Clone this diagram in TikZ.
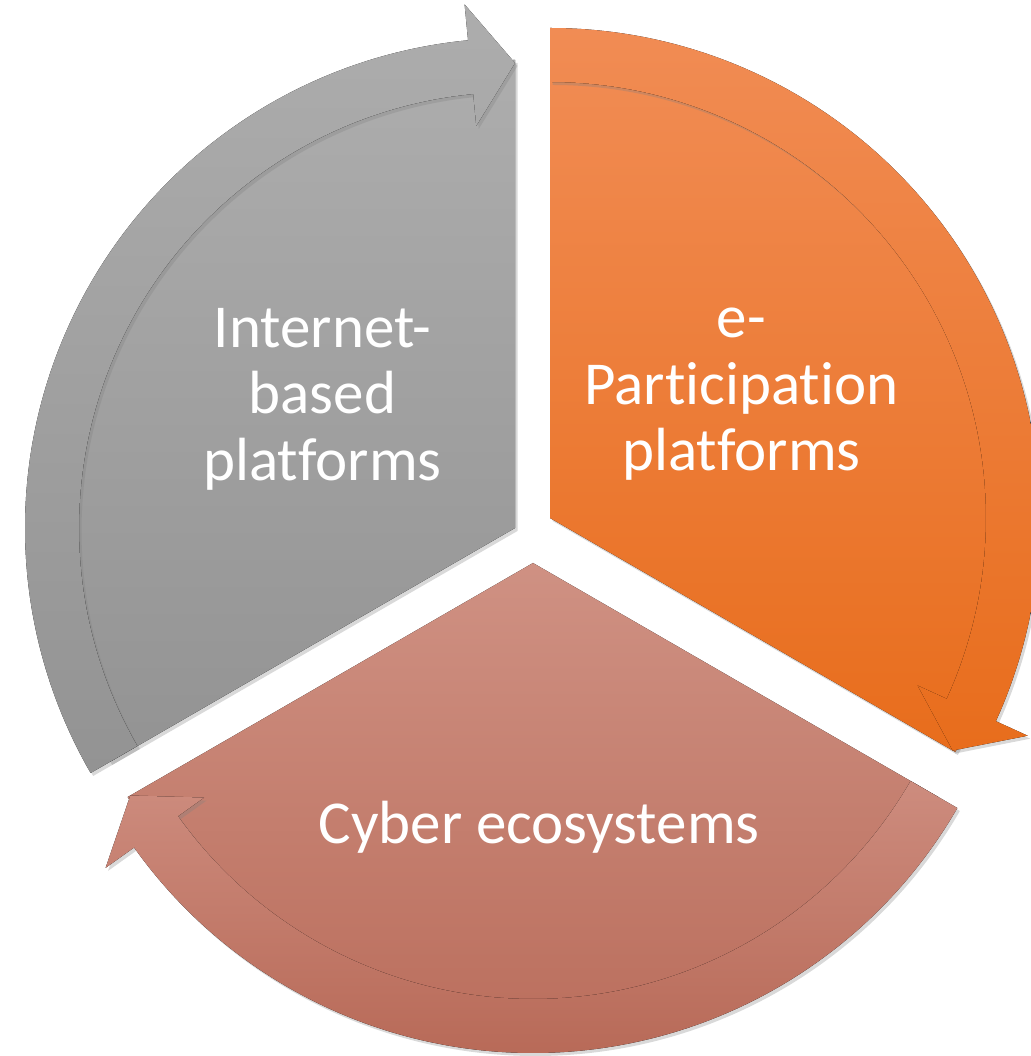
\documentclass[tikz,border=0pt]{standalone}
\usepackage{fontspec}
\setmainfont{Carlito}[Ligatures=CommonOff]
\usetikzlibrary{shadows}

\definecolor{grayTop}{HTML}{ADADAD}
\definecolor{grayBot}{HTML}{939393}
\definecolor{orangeTop}{HTML}{F18C54}
\definecolor{orangeBot}{HTML}{E86D1C}
\definecolor{roseTop}{HTML}{CF9183}
\definecolor{roseBot}{HTML}{B86A58}
\definecolor{roseBandTop}{HTML}{CD8C7E}

\begin{document}
\begin{tikzpicture}
    \tikzset{
        soft_shadow/.style={drop shadow={shadow xshift=0.05cm, shadow yshift=-0.06cm, opacity=0.3}},
        gray_part/.style={top color=grayTop, bottom color=grayBot, soft_shadow},
        orange_part/.style={top color=orangeTop, bottom color=orangeBot, soft_shadow},
        rose_pie/.style={top color=roseTop, bottom color=roseBot, soft_shadow},
        rose_band/.style={top color=roseBandTop, bottom color=roseBot, soft_shadow},
        label_text/.style={text=white, align=center, font=\fontsize{34.7}{37.8}\selectfont}
    }
    \useasboundingbox (0,0) rectangle (20.6,21.12);

    % Internet-based platforms
    \begin{scope}[shift={(10.30,10.56)}]
        \coordinate (G_v) at (0,0);
        \fill[gray_part] (G_v) -- (90:9.36) arc[start angle=90, end angle=210, radius=9.36] -- cycle;
        \fill[gray_part] (210:9.8) arc[start angle=210, end angle=95.5, radius=9.8]
            -- (95.5:10.52) -- (90:9.3) -- (95.5:8.08) -- (95.5:8.72)
            arc[start angle=95.5, end angle=210, radius=8.72] -- cycle;
    \end{scope}

    % e-Participation platforms
    \begin{scope}[shift={(11.00,10.76)}]
        \coordinate (O_v) at (0,0);
        \fill[orange_part] (O_v) -- (-30:9.36) arc[start angle=-30, end angle=90, radius=9.36] -- cycle;
        \fill[orange_part] (90:9.8) arc[start angle=90, end angle=-24.5, radius=9.8]
            -- (-24.5:10.5) -- (-30:9.3) -- (-24.5:8.08) -- (-24.5:8.72)
            arc[start angle=-24.5, end angle=90, radius=8.72] -- cycle;
    \end{scope}

    % Cyber ecosystems
    \begin{scope}[shift={(10.66,9.86)}]
        \coordinate (R_v) at (0,0);
        \fill[rose_pie] (R_v) -- (210:9.36) arc[start angle=210, end angle=330, radius=9.36] -- cycle;
        \fill[rose_band] (330:9.8) arc[start angle=330, end angle=215.5, radius=9.8]
            -- (215.5:10.5) -- (210:9.3) -- (215.5:8.08) -- (215.5:8.72)
            arc[start angle=215.5, end angle=330, radius=8.72] -- cycle;
    \end{scope}

    \node[label_text] (G_text) at (6.45,13.14) {Internet-\\based\\platforms};
    \node[label_text] (O_text) at (14.83,13.23) {e-\\Participation\\platforms};
    \node[label_text] (R_text) at (10.78,4.58) {Cyber ecosystems};

\end{tikzpicture}
\end{document}
